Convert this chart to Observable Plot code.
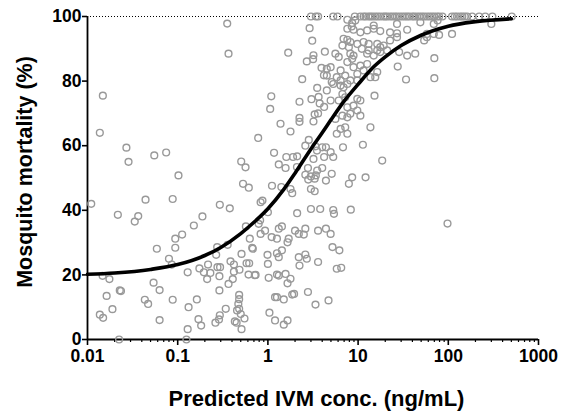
<!DOCTYPE html>
<html>
<head>
<meta charset="utf-8">
<script src="https://cdn.jsdelivr.net/npm/d3@7"></script>
<script src="https://cdn.jsdelivr.net/npm/@observablehq/plot@0.6"></script>
<style>
  html, body { margin: 0; padding: 0; background: #fff; }
  #chart { width: 561px; height: 416px; }
</style>
</head>
<body>
<div id="chart"></div>
<script>
// ---- Axis ticks ----
const xTicks = [0.01, 0.1, 1, 10, 100, 1000];
const yTicks = [0, 20, 40, 60, 80, 100];

// ---- Fitted curve ----
const curveConc = [0.01,0.02,0.05,0.1,0.2,0.3,0.5,0.7,1,1.5,2,3,4,5,7,10,15,20,30,50,100,200,500];
const curveMort = [20.2,20.6,21.7,23.2,26,28.5,32.8,36.3,40.5,46.5,51.5,59,64,68,73.8,79,84.5,87.5,91,94.2,97,98.4,99.3];

// ---- Observations: low concentrations (< 0.25 ng/mL) ----
const lowConc = [0.0148,0.0137,0.027,0.0285,0.055,0.0745,0.102,0.044,0.088,0.011,
  0.0217,0.0365,0.0334,0.0587,0.094,0.094,0.08,0.086,0.0147,0.0175,
  0.054,0.063,0.0163,0.0228,0.0235,0.0189,0.0137,0.0149,0.0432,0.047,
  0.088,0.063,0.0224,0.112,0.151,0.188,0.129,0.132,0.129,0.125,
  0.163,0.17,0.182,0.174,0.195,0.212,0.23,0.217];
const lowMort = [75.5,64,59.4,55,57,57.9,50.8,43.3,43.5,42,
  38.6,38.2,36.5,28.1,31.2,28.4,25,23.2,19.7,18.7,
  17.6,15.3,13.5,15.2,15,9.4,7.7,6.7,12.3,11,
  12.3,6,0,32.5,35.3,38.1,20.8,10,3.2,0,
  12.4,6.3,4.3,22,20.8,18.7,20.6,23.2];

// ---- 0.25 - 1 ng/mL ----
const subConc = [0.293,0.378,0.274,0.267,0.276,0.295,0.29,0.29,0.262,0.287,
  0.293,0.341,0.366,0.408,0.385,0.42,0.358,0.484,0.42,0.51,
  0.58,0.61,0.716,0.68,0.57,0.63,0.48,0.48,0.47,0.48,
  0.455,0.5,0.43,0.45,0.55,0.51,0.354,0.366,0.78,0.506,
  0.565,0.53,0.614,0.87,0.83,0.82,0.83,0.93,0.99,0.73,
  0.67,0.62,0.79];
const subMort = [41.7,40.6,28.6,26.2,22.4,22.4,19.6,15.2,5.2,6.2,
  7.5,9.5,17.2,18.7,24.2,23.2,29.3,21.6,21,26.5,
  23.6,20.1,19.9,28.1,35,31.2,13.8,12.5,11,9.5,
  9,7.9,5.6,5.2,6.5,3.2,97.8,88.5,62.4,55.1,
  53.3,48.2,47,43,42.5,36.9,32.7,33.7,26.2,20,
  28.4,23.6,35.8];

// ---- 1 - 3 ng/mL ----
const midConc = [1.09,1.06,1.38,1.17,1.32,1.11,1.02,1.04,1.2,1.0,
  1.0,1.41,1.78,1.86,1.68,2.4,2.24,2.24,2.24,2.84,
  2.6,2.11,1.57,2.78,2.11,1.32,1.43,2.0,2.6,1.1,
  1.26,1.65,1.7,2.5,1.26,1.32,2.2,2.6,2.7,2.24,
  1.26,1.32,1.57,1.78,1.65,2.78,1.2,1.26,1.5,1.86,
  1.95,1.65,1.5,1.43,2.2,2.1,2.7,2.9,1.78,1.6,
  1.9];
const midMort = [75.3,71.4,66.8,57.8,54.2,47.6,19.1,8.3,5.9,23.4,
  39.4,47.2,46.6,45.3,88.8,80.6,73.6,68.6,67.4,61.8,
  60,56.7,53.1,53.1,39.1,34.3,35,33.7,34.3,31.7,
  31.2,30.1,31.2,32.5,26.7,25.5,25.5,26.3,25,22.9,
  20.1,19.8,20.3,18.8,17.4,14.7,13.1,13.1,12.4,13.9,
  14.1,5.9,4.6,27.6,32.7,53.4,86.1,96.4,64.4,56.5,
  56.5];

// ---- 3 - 10 ng/mL (and one outlier near 100) ----
const highConc = [3.1,3.2,3.17,4.28,3.93,4.18,3.52,3.04,3.65,3.75,
  4.2,3.3,3.6,3.2,3.37,4.0,3.2,4.0,3.52,2.6,
  3.0,3.4,2.8,3.3,3.0,3.3,3.0,3.8,3.6,3.6,
  3.37,98,5.3,5.4,8.3,4.4,4.96,5.2,6.2,5.8,
  6.5,4.7];
const highMort = [92.5,88,86.8,89.1,84.1,81.8,77.9,74.4,75.1,73.1,
  72,69.7,70,67.5,59.8,59.5,55.9,53.1,52.3,51,
  50.5,50.8,49.5,49.8,46.6,45.9,40.4,40.4,33.7,24,
  10.8,35.9,40.1,38.9,40.2,34.3,32.7,28.6,27.6,21.9,
  22.2,12.1];

// ---- Upper cloud (mortality 48 - 99 %) ----
const upperConc = [7.6,8.6,9.3,8.5,14.9,27,49,69,76,300,
  7.6,8.9,10.6,12.6,14.9,17.6,22.6,27,35,58,
  69,79,110,54,58,6.9,7.6,8.2,9.8,11.5,
  13.1,16.3,19.2,22.6,27,6.7,7.9,11,13.1,16.3,
  17.6,8.2,8.9,12.6,14.9,17.6,21,28.5,35,43,
  70,70,27.5,34,5.6,6.1,7.6,8.6,8.9,10.6,
  12.6,11.5,13.7,15.5,16.3,4.5,4.96,6.4,7.2,9.8,
  4.5,5.8,6.4,7.6,8.2,9.8,4.5,5.1,5.3,6.4,
  6.9,6.7,7.2,9.8,10.6,15.2,8.9,7.6,8.2,6.1,
  4.96,9.8,10.6,13.7,5.6,6.7,7.6,5.8,6.4,7.2,
  7.6,6.8,11.3,18.5,4.4,4.96,5.3,4.2,3.5,5.1,
  4.4,12.1,8.6,7.9];
const upperMort = [99,98,98.8,96.9,97.2,97.7,98.2,97.7,98.8,97.7,
  96.2,95.9,95.1,95.7,96.2,95.5,95.1,94.8,95.9,94.6,
  94.6,94.3,94.6,92.6,93.6,93.1,92.8,92.1,91.5,92.1,
  91.5,91.5,91,92.6,93.6,91,90.5,90,89.5,89.5,
  90.5,88.5,87.9,88.5,87.9,89,89.5,89,87.9,88.5,
  87.1,80.9,84.5,80.5,88.5,87.5,85.9,86.9,84.3,84.8,
  85.3,83.3,81.2,81.2,82.8,83.8,84.3,83.3,81.7,82.2,
  81.7,81.2,80.2,79.1,80.2,80.2,77.1,79.7,79.1,78.6,
  78.1,76,75,74.5,74,75.5,72.4,71.9,69.9,74,
  74,70.9,69.3,65.7,68.3,69.3,68.8,63.7,65.2,65.7,
  63.7,59.5,60.3,55.4,59.5,58,56.5,56.5,58.5,51.3,
  49.2,50.2,50.2,48.2];

// ---- Points at 100 % mortality ----
const fullConc = [3.0,3.4,3.6,5.3,5.9,9.2,10.6,11.5,12.1,13,13.7,14.5,15.5,16.5,17.6,19,20,21,22.6,24,
  25.6,27,29,31,33,35,37,40,42,45,48,51,54,58,62,66,70,75,79,86,
  110,118,125,135,143,152,162,184,220,257,308,505];

// ---- Build tables ----
const pairs = (cs, ms) => cs.map((c, i) => ({conc: c, mort: ms[i]}));
const points = [
  ...pairs(lowConc, lowMort),
  ...pairs(subConc, subMort),
  ...pairs(midConc, midMort),
  ...pairs(highConc, highMort),
  ...pairs(upperConc, upperMort),
  ...fullConc.map(c => ({conc: c, mort: 100}))
];
const curve = pairs(curveConc, curveMort);

const minorTicks = [];
for (let i = 0; i < xTicks.length - 1; i++) {
  for (let k = 2; k <= 9; k++) minorTicks.push(xTicks[i] * k);
}

const FONT = "'Liberation Sans', Arial, Helvetica, sans-serif";

const chart = Plot.plot({
  width: 561,
  height: 416,
  marginLeft: 87,
  marginRight: 23,
  marginTop: 16,
  marginBottom: 77,
  style: {fontFamily: FONT, fontSize: "17.5px", fontWeight: "bold", color: "black", background: "white", overflow: "visible"},
  x: {type: "log", domain: [0.01, 1000]},
  y: {domain: [0, 100]},
  marks: [
    Plot.ruleY([100], {stroke: "black", strokeWidth: 1, strokeDasharray: "1,2"}),
    Plot.axisX({ticks: minorTicks, tickSize: 3, tickFormat: () => "", strokeWidth: 1.2, label: null}),
    Plot.axisX({ticks: xTicks, tickSize: 6, tickPadding: 4.5, tickFormat: d => String(d), strokeWidth: 1.6, label: null}),
    Plot.axisY({ticks: yTicks, tickSize: 5, tickPadding: 1, strokeWidth: 1.6, label: null}),
    Plot.ruleY([0], {stroke: "black", strokeWidth: 1.8}),
    Plot.ruleX([0.01], {stroke: "black", strokeWidth: 1.8}),
    Plot.dot(points, {x: "conc", y: "mort", r: 3.4, stroke: "#999999", strokeWidth: 1.4, fill: "none"}),
    Plot.line(curve, {x: "conc", y: "mort", curve: "monotone-x", stroke: "black", strokeWidth: 3.6}),
    Plot.text(["Predicted IVM conc. (ng/mL)"], {frameAnchor: "bottom", textAnchor: "middle", dx: 3.5, dy: 66, fontSize: 22, fontWeight: "bold", fill: "black"}),
    Plot.text(["Mosquito mortality (%)"], {frameAnchor: "left", textAnchor: "middle", dx: -62, dy: -6, rotate: -90, fontSize: 21.5, fontWeight: "bold", fill: "black"})
  ]
});
document.getElementById("chart").appendChild(chart);
</script>
</body>
</html>
